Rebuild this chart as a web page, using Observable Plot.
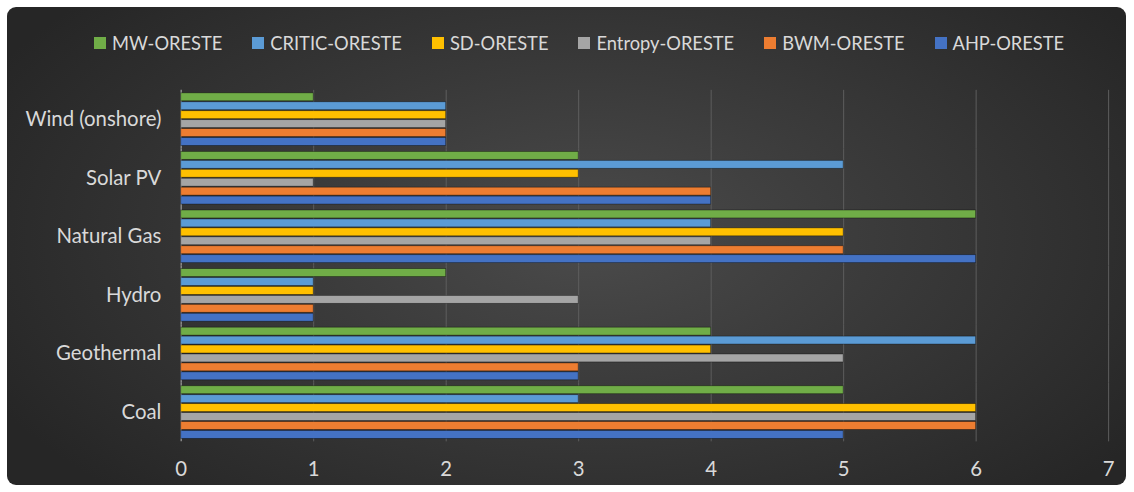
<!DOCTYPE html>
<html>
<head>
<meta charset="utf-8">
<script src="https://cdn.jsdelivr.net/npm/d3@7"></script>
<script src="https://cdn.jsdelivr.net/npm/@observablehq/plot@0.6"></script>
<style>
  html, body { margin: 0; padding: 0; background: #fff; }
  #panel {
    position: absolute; left: 7px; top: 7px; width: 1119px; height: 478px;
    border-radius: 9px; overflow: hidden;
    background: radial-gradient(ellipse 60% 75% at 52% 48%, #4b4b4b 0%, #3a3a3a 45%, #262626 100%);
    font-family: Lato, "Open Sans", sans-serif;
  }
  #legend {
    position: absolute; left: 87px; top: 24px; display: flex; gap: 30px;
    color: #d9d9d9; font-size: 18.3px; line-height: 24px; white-space: nowrap;
  }
  #legend .item { display: flex; align-items: center; gap: 6px; }
  #legend .sw { width: 12px; height: 12px; display: inline-block; }
  #chart { position: absolute; left: -7px; top: 63px; line-height: 0; }
  #chart svg { display: block; }
</style>
</head>
<body>
<div id="panel">
  <div id="legend"></div>
  <div id="chart"></div>
</div>
<script>
const categories = ["Wind (onshore)", "Solar PV", "Natural Gas", "Hydro", "Geothermal", "Coal"];
const seriesNames = ["MW-ORESTE", "CRITIC-ORESTE", "SD-ORESTE", "Entropy-ORESTE", "BWM-ORESTE", "AHP-ORESTE"];
const seriesColors = ["#70ad47", "#5b9bd5", "#ffc000", "#a5a5a5", "#ed7d31", "#4472c4"];
// values per series, in the order of categories
const mwOreste      = [1, 3, 6, 2, 4, 5];
const criticOreste  = [2, 5, 4, 1, 6, 3];
const sdOreste      = [2, 3, 5, 1, 4, 6];
const entropyOreste = [2, 1, 4, 3, 5, 6];
const bwmOreste     = [2, 4, 5, 1, 3, 6];
const ahpOreste     = [2, 4, 6, 1, 3, 5];
const xTicks = [0, 1, 2, 3, 4, 5, 6, 7];

const seriesValues = [mwOreste, criticOreste, sdOreste, entropyOreste, bwmOreste, ahpOreste];
const data = [];
seriesNames.forEach((s, i) => {
  categories.forEach((c, j) => data.push({series: s, category: c, value: seriesValues[i][j]}));
});

// legend
const legend = document.getElementById("legend");
seriesNames.forEach((s, i) => {
  const it = document.createElement("div");
  it.className = "item";
  it.innerHTML = `<span class="sw" style="background:${seriesColors[i]}"></span><span>${s}</span>`;
  legend.appendChild(it);
});

const chart = Plot.plot({
  width: 1134,
  height: 425,
  marginLeft: 182,
  marginRight: 18,
  marginTop: 17,
  marginBottom: 49,
  style: {background: "transparent", color: "#d9d9d9", fontFamily: "Lato, 'Open Sans', sans-serif", fontSize: "20.5px"},
  x: {domain: [0, 7], ticks: xTicks, tickFormat: "d", tickSize: 0, tickPadding: 20, label: null},
  y: {domain: seriesNames, axis: null, paddingInner: 0.15, paddingOuter: 0.12},
  fy: {domain: categories, padding: 0, axis: "left", tickSize: 0, tickPadding: 20, label: null},
  color: {domain: seriesNames, range: seriesColors},
  marks: [
    Plot.ruleX(xTicks.slice(1), {stroke: "#5e5e5e", strokeWidth: 1}),
    Plot.ruleX([0], {stroke: "#8a8a8a", strokeWidth: 1.5}),
    Plot.barX(data, {x: "value", y: "series", fy: "category", fill: "series",
      stroke: "rgba(0,0,0,0.45)", strokeWidth: 0.8})
  ]
});
document.getElementById("chart").appendChild(chart);
</script>
</body>
</html>
